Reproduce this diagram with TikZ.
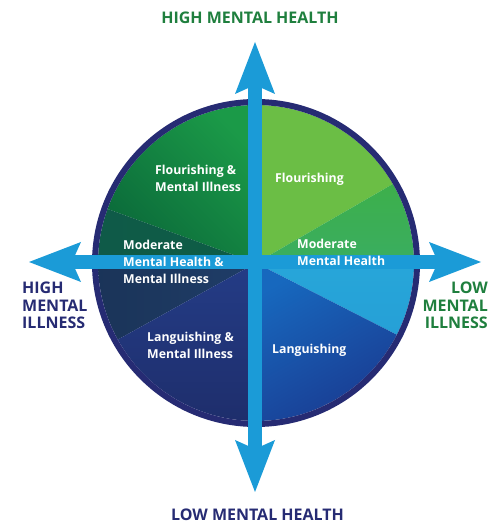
\documentclass[tikz,border=0pt]{standalone}
\usepackage{fontspec}
\setmainfont{Open Sans}
\usepackage{xcolor}
\usepackage{tikz}
\usetikzlibrary{arrows.meta}
\definecolor{navy}{HTML}{262B73}
\definecolor{titlegreen}{HTML}{1F7F3E}
\definecolor{axisblue}{HTML}{1B9BD7}
\definecolor{flourMI}{HTML}{1B9A48}
\definecolor{flourMIdark}{HTML}{0B6A3A}
\definecolor{modMIgreen}{HTML}{0F5A48}
\definecolor{modMIblue}{HTML}{1F3D68}
\definecolor{languMI}{HTML}{243C86}
\definecolor{languMIdark}{HTML}{1E2E6C}
\definecolor{flour}{HTML}{6BBE45}
\definecolor{modMH}{HTML}{3DAF4B}
\definecolor{modMHblue}{HTML}{27A6D9}
\definecolor{langu}{HTML}{1768BE}
\definecolor{langudark}{HTML}{1A3C92}
\tikzset{
  axisArrow/.style={draw=axisblue, line width=14pt,
    {Stealth[length=52pt, width=40pt, inset=9pt, line width=0pt]}-{Stealth[length=52pt, width=40pt, inset=9pt, line width=0pt]}},
  rim/.style={draw=navy, line width=6pt},
  quadLbl/.style={text=white, font=\fontsize{12.3}{17}\selectfont\bfseries, inner sep=0pt, anchor=west, align=left},
  greenLbl/.style={text=titlegreen, font=\fontsize{16}{17.5}\selectfont\bfseries, inner sep=0pt},
  navyLbl/.style={text=navy, font=\fontsize{16}{17.5}\selectfont\bfseries, inner sep=0pt},
}
\newcommand{\rad}{158}
\newcommand{\AxisCoords}{%
  \coordinate (ctr) at (256,264);
  \coordinate (N) at (255,485);
  \coordinate (S) at (255,35);
  \coordinate (W) at (29,265);
  \coordinate (E) at (481,265);
}
\newcommand{\Sector}[3]{%
  \shade[#3] (ctr) -- ++(#1:\rad) arc[start angle=#1, end angle=#2, radius=\rad] -- cycle;
}

\begin{document}
\begin{tikzpicture}[x=1pt, y=1pt]
  \useasboundingbox (0,0) rectangle (491,527);
  \AxisCoords

  % quadrant wedges
  \Sector{90}{160}{top color=flourMI, bottom color=flourMIdark, shading angle=-45}
  \Sector{160}{180}{left color=modMIgreen, right color=modMIgreen!80!flourMIdark}
  \Sector{180}{209}{left color=modMIblue!85!black, right color=modMIblue}
  \Sector{209}{270}{top color=languMI, bottom color=languMIdark}
  \Sector{30}{90}{top color=flour, bottom color=flour}
  \Sector{0}{30}{top color=modMH, bottom color=modMH!85!modMHblue}
  \Sector{-27}{0}{top color=modMHblue, bottom color=modMHblue!90!langu}
  \Sector{-90}{-27}{top color=langu, bottom color=langudark, shading angle=30}
  \draw[rim] (ctr) circle[radius=161];

  % axes
  \draw[axisArrow] (S) -- (N);
  \draw[axisArrow] (W) -- (E);

  \node[quadLbl] (flourmi) at (155,348.5) {Flourishing \&\\Mental Illness};
  \node[quadLbl] (flour)   at (275,348)   {Flourishing};
  \node[quadLbl] (modmi)   at (123,265)   {Moderate\\Mental Health \&\\Mental Illness};
  \node[quadLbl] (modmh)   at (297,274.5) {Moderate\\Mental Health};
  \node[quadLbl] (langmi)  at (147,181.5) {Languishing \&\\Mental Illness};
  \node[quadLbl] (lang)    at (272,177)   {Languishing};

  \node[greenLbl] (hmh) at (250,509) {HIGH MENTAL HEALTH};
  \node[navyLbl]  (lmh) at (257.5,12) {LOW MENTAL HEALTH};
  \node[navyLbl, anchor=west, align=left]   (hmi) at (22,221.5)  {HIGH\\MENTAL\\ILLNESS};
  \node[greenLbl, anchor=east, align=right] (lmi) at (488,221.5) {LOW\\MENTAL\\ILLNESS};
\end{tikzpicture}
\end{document}
